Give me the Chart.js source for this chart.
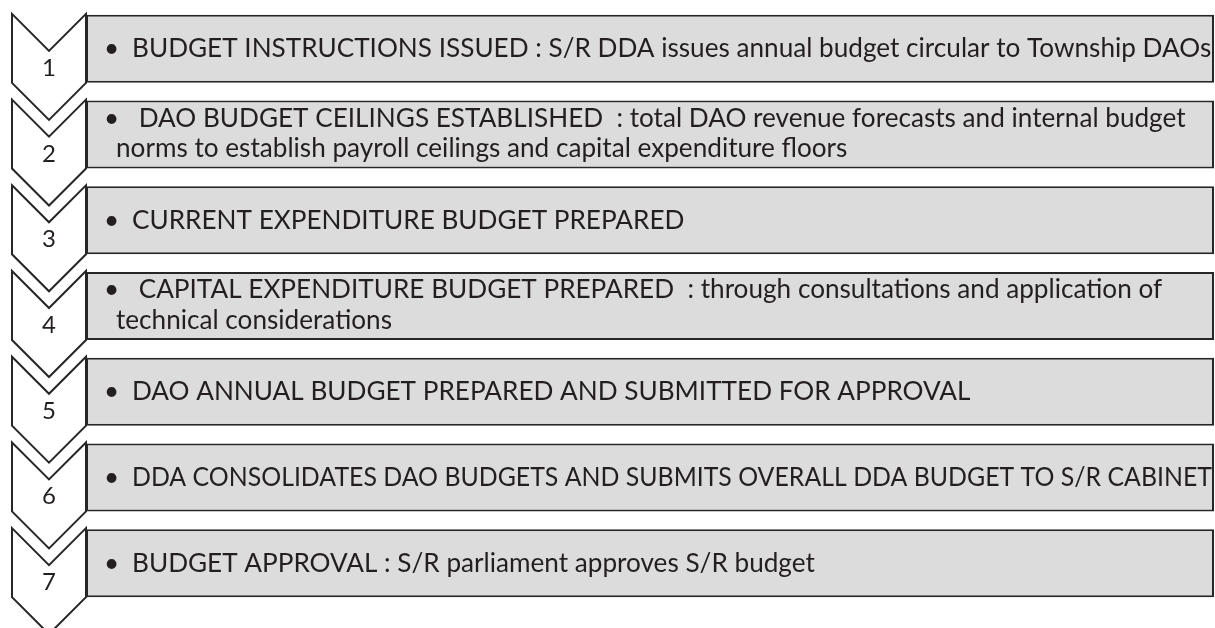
<!DOCTYPE html>
<html>
<head>
<meta charset="utf-8">
<script src="https://cdn.jsdelivr.net/npm/chart.js@4.4.1/dist/chart.umd.min.js"></script>
<style>
  html, body { margin: 0; padding: 0; background: #fff; }
  #wrap { width: 1215px; height: 628px; }
</style>
</head>
<body>
<div id="wrap"><canvas id="flow" width="1215" height="628"></canvas></div>
<script>
// step numbers shown in the chevrons
const steps = ["1", "2", "3", "4", "5", "6", "7"];

// text of each step, split the way it wraps in the box
const stepLines = [
  ["BUDGET INSTRUCTIONS ISSUED : S/R DDA issues annual budget circular to Township DAOs"],
  [" DAO BUDGET CEILINGS ESTABLISHED  : total DAO revenue forecasts and internal budget",
   "norms to establish payroll ceilings and capital expenditure floors"],
  ["CURRENT EXPENDITURE BUDGET PREPARED"],
  [" CAPITAL EXPENDITURE BUDGET PREPARED  : through consultations and application of",
   "technical considerations"],
  ["DAO ANNUAL BUDGET PREPARED AND SUBMITTED FOR APPROVAL"],
  ["DDA CONSOLIDATES DAO BUDGETS AND SUBMITS OVERALL DDA BUDGET TO S/R CABINET"],
  ["BUDGET APPROVAL : S/R parliament approves S/R budget"],
];

// every box runs across the full width
const boxStart = [0, 0, 0, 0, 0, 0, 0];
const boxEnd = [1, 1, 1, 1, 1, 1, 1];

const ink = "#262626";
const textColor = "#231f20";

const chevronPlugin = {
  id: "chevrons",
  beforeDatasetsDraw(chart) {
    const ctx = chart.ctx;
    const meta = chart.getDatasetMeta(0);
    ctx.save();
    ctx.lineWidth = 2;
    ctx.strokeStyle = ink;
    ctx.fillStyle = "#fff";
    ctx.lineJoin = "miter";
    meta.data.forEach((bar) => {
      const half = bar.height / 2;
      const top = bar.y - half - 1;
      const bottom = bar.y + half;
      const left = 12;
      const right = chart.chartArea.left;
      const mid = (left + right) / 2;
      const depth = right - mid;
      ctx.beginPath();
      ctx.moveTo(left, top);
      ctx.lineTo(mid, top + depth);
      ctx.lineTo(right, top);
      ctx.lineTo(right, bottom);
      ctx.lineTo(mid, bottom + depth);
      ctx.lineTo(left, bottom);
      ctx.closePath();
      ctx.fill();
      ctx.stroke();
    });
    ctx.restore();
  },
  afterDatasetsDraw(chart) {
    const ctx = chart.ctx;
    const meta = chart.getDatasetMeta(0);
    const left = chart.chartArea.left;
    const maxW = chart.chartArea.right - left - 48;
    ctx.save();
    ctx.fillStyle = textColor;
    ctx.textBaseline = "alphabetic";

    // fit the text size so the first line fills its box like the original
    ctx.font = "100px Lato";
    const w = ctx.measureText(stepLines[0][0]).width;
    const size = (100 * 1080) / w;

    meta.data.forEach((bar, i) => {
      // step number
      ctx.font = "24px Lato";
      ctx.textAlign = "center";
      ctx.fillText(steps[i], 49, bar.y + 27);

      // bullet text
      ctx.textAlign = "left";
      ctx.font = size + "px Lato";
      const lines = stepLines[i];
      const ys = lines.length === 1 ? [bar.y + 8.5] : [bar.y - 8, bar.y + 22.5];
      lines.forEach((line, j) => {
        if (j === 0) {
          ctx.fillText("\u2022", left + 18, ys[j]);
          ctx.fillText(line, left + 46, ys[j], maxW);
        } else {
          ctx.fillText(line, left + 30, ys[j], maxW);
        }
      });
    });
    ctx.restore();
  },
};

new Chart(document.getElementById("flow"), {
  type: "bar",
  data: {
    labels: steps,
    datasets: [
      {
        data: boxStart.map((s, i) => [s, boxEnd[i]]),
        backgroundColor: "#dcdcdc",
        borderColor: ink,
        borderWidth: 2,
        borderSkipped: false,
        barPercentage: 0.793,
        categoryPercentage: 1,
      },
    ],
  },
  plugins: [chevronPlugin],
  options: {
    indexAxis: "y",
    responsive: false,
    animation: false,
    layout: { padding: { left: 86, right: 1, top: 6, bottom: 22 } },
    scales: {
      x: { display: false, min: 0, max: 1 },
      y: { display: false },
    },
    plugins: {
      legend: { display: false },
      tooltip: { enabled: false },
    },
  },
});
</script>
</body>
</html>
